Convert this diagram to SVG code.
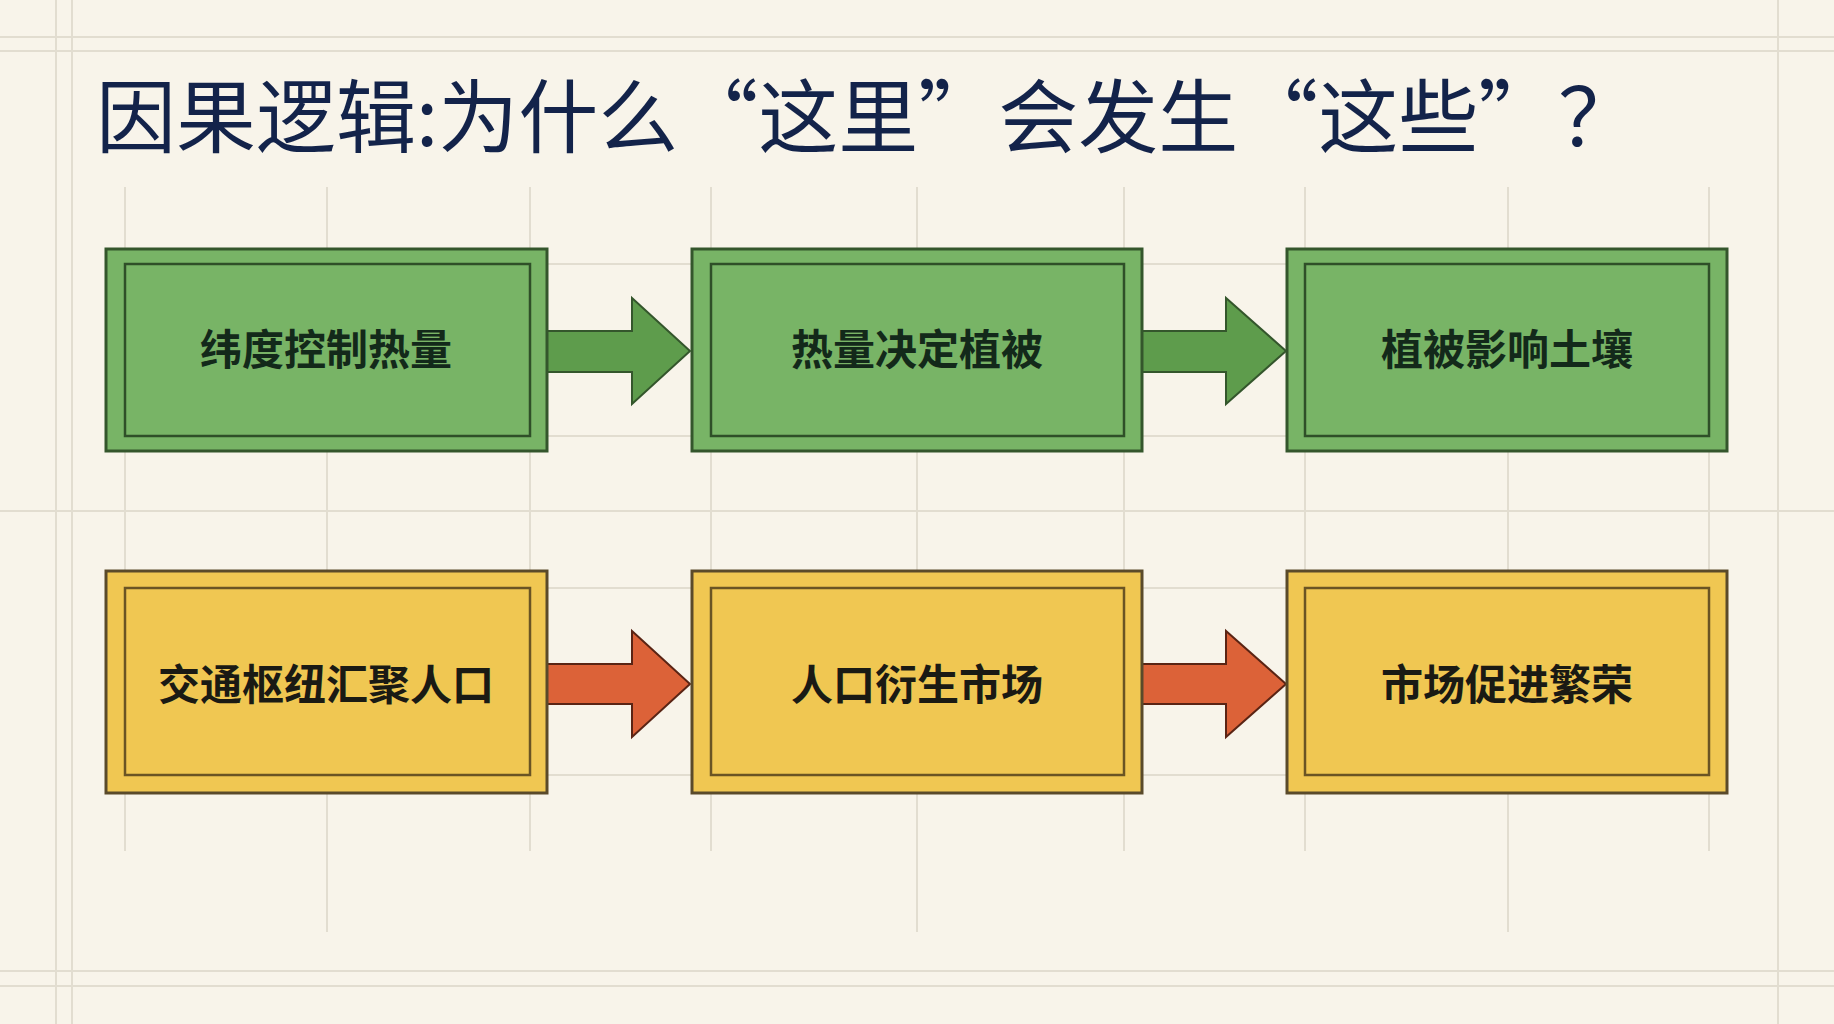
<svg xmlns="http://www.w3.org/2000/svg" width="1834" height="1024" viewBox="0 0 1834 1024">
<style>
.g{stroke:#e2ddd0;stroke-width:2;fill:none}
.gb{fill:#78b466;stroke:#34562c;stroke-width:3}
.gi{fill:none;stroke:#2f4f28;stroke-width:2.5}
.yb{fill:#f0c752;stroke:#5a4a2a;stroke-width:3}
.yi{fill:none;stroke:#6a5424;stroke-width:2.5}
.ga{fill:#5e9c4c;stroke:#34562c;stroke-width:2}
.oa{fill:#dc6238;stroke:#5a2414;stroke-width:2}
.t{font-family:"Noto Sans CJK SC","Noto Sans",sans-serif;font-size:42px;text-anchor:middle;font-weight:bold}
</style>
<rect width="1834" height="1024" fill="#f8f4ea"/>
<g id="grid">
<path class="g" d="M56 0V1024M72 0V1024M1778 0V1024M0 37H1834M0 51H1834M0 971H1834M0 986H1834M0 511H1834"/>
<path class="g" d="M125 187V851M327 187V932M530 187V851M711 187V851M917 187V932M1124 187V851M1305 187V851M1508 187V932M1709 187V851"/>
<path class="g" d="M530 264H711M530 436H711M1124 264H1305M1124 436H1305M530 588H711M530 775H711M1124 588H1305M1124 775H1305"/>
</g>
<text x="96" y="146" font-family="Noto Sans CJK SC,sans-serif" font-size="80" fill="#13234a">因果逻辑:为什么“这里”会发生“这些”？</text>
<g id="connectors">
<polygon class="ga" points="547,331 632,331 632,298 690,351 632,404 632,372 547,372"/>
<polygon class="ga" points="1142,331 1226,331 1226,298 1286,351 1226,404 1226,372 1142,372"/>
<polygon class="oa" points="547,664 632,664 632,631 690,684 632,737 632,704 547,704"/>
<polygon class="oa" points="1142,664 1226,664 1226,631 1286,684 1226,737 1226,704 1142,704"/>
</g>
<g id="n1"><rect class="gb" x="106" y="249" width="441" height="202"/><rect class="gi" x="125" y="264" width="405" height="172"/><text class="t" x="326" y="365" fill="#13291a">纬度控制热量</text></g>
<g id="n2"><rect class="gb" x="692" y="249" width="450" height="202"/><rect class="gi" x="711" y="264" width="413" height="172"/><text class="t" x="917" y="365" fill="#13291a">热量决定植被</text></g>
<g id="n3"><rect class="gb" x="1287" y="249" width="440" height="202"/><rect class="gi" x="1305" y="264" width="404" height="172"/><text class="t" x="1507" y="365" fill="#13291a">植被影响土壤</text></g>
<g id="n4"><rect class="yb" x="106" y="571" width="441" height="222"/><rect class="yi" x="125" y="588" width="405" height="187"/><text class="t" x="326" y="700" fill="#1a1a14">交通枢纽汇聚人口</text></g>
<g id="n5"><rect class="yb" x="692" y="571" width="450" height="222"/><rect class="yi" x="711" y="588" width="413" height="187"/><text class="t" x="917" y="700" fill="#1a1a14" font-weight="normal">人口衍生市场</text></g>
<g id="n6"><rect class="yb" x="1287" y="571" width="440" height="222"/><rect class="yi" x="1305" y="588" width="404" height="187"/><text class="t" x="1507" y="700" fill="#1a1a14">市场促进繁荣</text></g>
</svg>
